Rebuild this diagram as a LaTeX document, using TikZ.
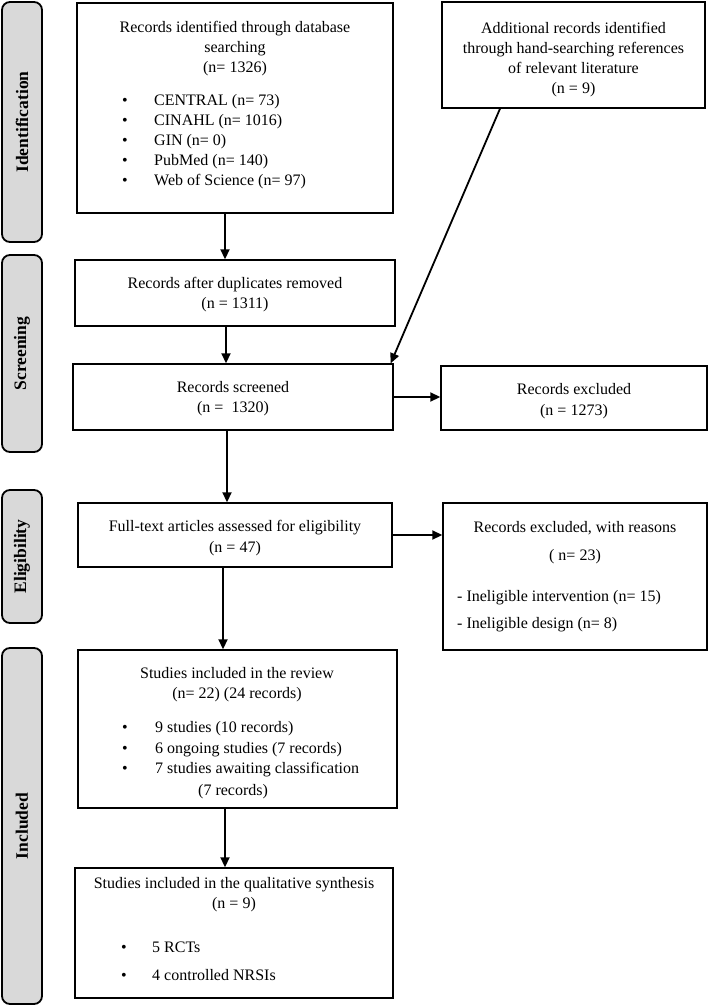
\documentclass[tikz,border=0pt]{standalone}
\usepackage{fontspec}
\setmainfont{Liberation Serif}
\usetikzlibrary{arrows.meta}
\begin{document}
\begin{tikzpicture}[x=1pt,y=-1pt,
  phase/.style={draw=black, line width=1.8pt, fill=black!15, rounded corners=8pt,
    rotate=90, inner sep=0pt, font=\fontsize{17.5}{20}\selectfont\bfseries},
  box/.style={draw=black, line width=1.4pt, inner sep=0pt},
  txt/.style={inner sep=0pt, text height=12pt, text depth=2pt, font=\fontsize{16}{20}\selectfont},
  arr/.style={line width=1.8pt, -{Triangle[length=10pt,width=9pt]}}]
\useasboundingbox (0,0) rectangle (710,1007);

% phase labels
\node[phase, minimum width=240pt, minimum height=40pt] (pid) at (22,122) {Identification};
\node[phase, minimum width=197pt, minimum height=40pt] (psc) at (22,353.5) {Screening};
\node[phase, minimum width=133pt, minimum height=40pt] (pel) at (22,556.5) {Eligibility};
\node[phase, minimum width=356pt, minimum height=40pt] (pin) at (22,826) {Included};

% boxes
\node[box, minimum width=316pt, minimum height=210pt] (b1) at (235,108) {};
\node[box, minimum width=263pt, minimum height=106pt] (add) at (573.5,55) {};
\node[box, minimum width=320pt, minimum height=66pt] (b2) at (235,293) {};
\node[box, minimum width=320pt, minimum height=66pt] (scr) at (233,397) {};
\node[box, minimum width=266pt, minimum height=64pt] (exc) at (574,398) {};
\node[box, minimum width=314pt, minimum height=64pt] (ft) at (235,535) {};
\node[box, minimum width=264pt, minimum height=147pt] (excr) at (575,576.5) {};
\node[box, minimum width=319pt, minimum height=158pt] (inc) at (237.5,729) {};
\node[box, minimum width=318pt, minimum height=130pt] (fin) at (234,933) {};

% box 1 text
\node[txt] (b1t1) at (235,27) {Records identified through database};
\node[txt] (b1t2) at (235,47) {searching};
\node[txt] (b1t3) at (235,67) {(n= 1326)};
\foreach \y/\t [count=\i] in {100/CENTRAL (n= 73), 120/CINAHL (n= 1016), 140/GIN (n= 0), 160/PubMed (n= 140), 180/Web of Science (n= 97)}{
  \node[txt] (b1b\i) at (125,\y) {•};
  \node[txt, anchor=west] (b1l\i) at (154,\y) {\t};
}

% additional
\node[txt] (ad1) at (573.5,28) {Additional records identified};
\node[txt] (ad2) at (573.5,48) {through hand-searching references};
\node[txt] (ad3) at (573.5,68) {of relevant literature};
\node[txt] (ad4) at (573.5,88) {(n = 9)};

% duplicates
\node[txt] (b2t1) at (235,283) {Records after duplicates removed};
\node[txt] (b2t2) at (235,303) {(n = 1311)};

% screened
\node[txt] (sc1) at (233,387) {Records screened};
\node[txt] (sc2) at (233,407) {(n = \ 1320)};

% excluded
\node[txt] (ex1) at (574,389) {Records excluded};
\node[txt] (ex2) at (574,410) {(n = 1273)};

% full text
\node[txt] (ft1) at (235,526) {Full-text articles assessed for eligibility};
\node[txt] (ft2) at (235,547) {(n = 47)};

% excluded with reasons
\node[txt] (er1) at (575,527) {Records excluded, with reasons};
\node[txt] (er2) at (575,555) {( n= 23)};
\node[txt, anchor=west] (er3) at (457,596) {- Ineligible intervention (n= 15)};
\node[txt, anchor=west] (er4) at (457,623) {- Ineligible design (n= 8)};

% included
\node[txt] (in1) at (237,673) {Studies included in the review};
\node[txt] (in2) at (237,693) {(n= 22) (24 records)};
\foreach \y/\t [count=\i] in {727/9 studies (10 records), 748/6 ongoing studies (7 records), 768/7 studies awaiting classification}{
  \node[txt] (inb\i) at (125,\y) {•};
  \node[txt, anchor=west] (inl\i) at (155,\y) {\t};
}
\node[txt, anchor=west] (in6) at (198,790) {(7 records)};

% final
\node[txt] (fi1) at (234,883) {Studies included in the qualitative synthesis};
\node[txt] (fi2) at (234,903) {(n = 9)};
\node[txt] (fib1) at (124,947) {•};
\node[txt, anchor=west] (fil1) at (152,947) {5 RCTs};
\node[txt] (fib2) at (124,975) {•};
\node[txt, anchor=west] (fil2) at (152,975) {4 controlled NRSIs};

% connectors
\draw[arr] ([xshift=-10pt]b1.south) -- ([xshift=-10pt]b1.south |- b2.north);
\draw[arr] ([xshift=-9pt]b2.south) -- ([xshift=-9pt]b2.south |- scr.north);
\draw[arr] ([xshift=-6pt]scr.south) -- ([xshift=-6pt]scr.south |- ft.north);
\draw[arr] ([xshift=-12pt]ft.south) -- ([xshift=-12pt]ft.south |- inc.north);
\draw[arr] ([xshift=-12.5pt]inc.south) -- ([xshift=-12.5pt]inc.south |- fin.north);
\draw[arr] ([xshift=-73.5pt]add.south) -- ([xshift=-3pt]scr.north east);
\draw[arr] (scr.east) -- (scr.east -| exc.west);
\draw[arr] (ft.east) -- (ft.east -| excr.west);
\end{tikzpicture}
\end{document}
